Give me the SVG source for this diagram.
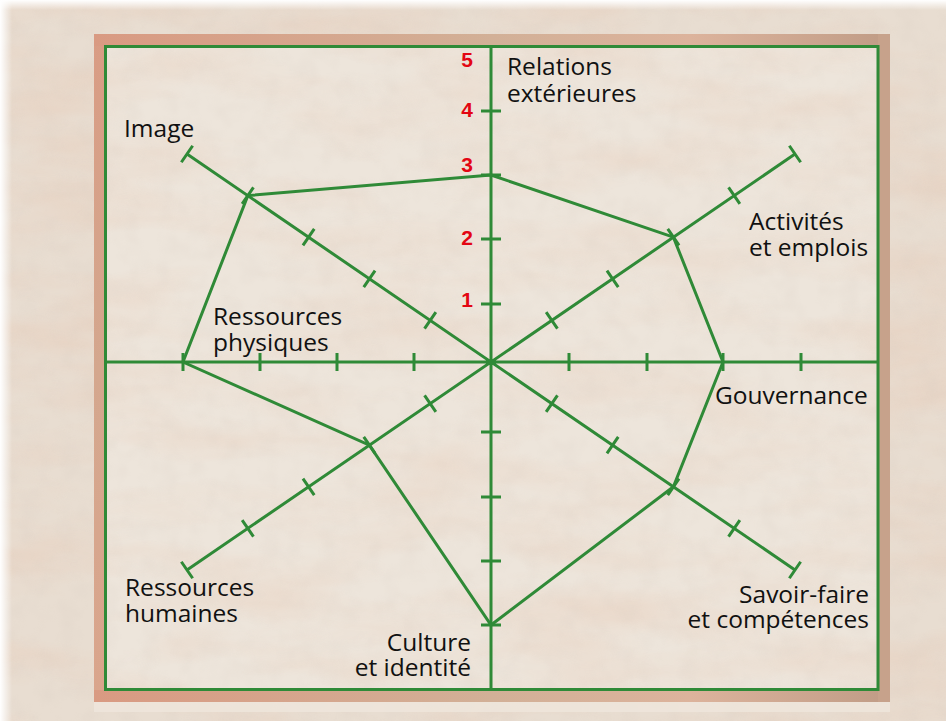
<svg xmlns="http://www.w3.org/2000/svg" width="946" height="721" viewBox="0 0 946 721">
  <defs>
    <filter id="marble" x="0" y="0" width="100%" height="100%">
      <feTurbulence type="fractalNoise" baseFrequency="0.006 0.022" numOctaves="4" seed="7"/>
      <feColorMatrix type="matrix" values="0 0 0 0 0.80  0 0 0 0 0.60  0 0 0 0 0.48  1.6 0 0 0 -0.62"/>
    </filter>
    <filter id="fine" x="0" y="0" width="100%" height="100%">
      <feTurbulence type="fractalNoise" baseFrequency="0.05" numOctaves="2" seed="3"/>
      <feColorMatrix type="matrix" values="0 0 0 0 0.70  0 0 0 0 0.62  0 0 0 0 0.55  1.2 0 0 0 -0.5"/>
    </filter>
    <linearGradient id="frameTop" x1="0" y1="0" x2="1" y2="0">
      <stop offset="0" stop-color="#d99a82"/>
      <stop offset="0.5" stop-color="#d2b097"/>
      <stop offset="0.75" stop-color="#dcb39c"/>
      <stop offset="1" stop-color="#c09c86"/>
    </linearGradient>
    <linearGradient id="frameV" x1="0" y1="0" x2="0" y2="1">
      <stop offset="0" stop-color="#d99c84"/>
      <stop offset="0.5" stop-color="#d4a78e"/>
      <stop offset="1" stop-color="#daa58c"/>
    </linearGradient>
    <linearGradient id="fadeTop" x1="0" y1="0" x2="0" y2="1">
      <stop offset="0" stop-color="#ffffff" stop-opacity="1"/>
      <stop offset="1" stop-color="#ffffff" stop-opacity="0"/>
    </linearGradient>
    <linearGradient id="fadeLeft" x1="0" y1="0" x2="1" y2="0">
      <stop offset="0" stop-color="#ffffff" stop-opacity="1"/>
      <stop offset="1" stop-color="#ffffff" stop-opacity="0"/>
    </linearGradient>
    <style>
      .ax { fill: none; stroke: #2f8a37; stroke-width: 3; stroke-linecap: butt; stroke-linejoin: miter; }
      .tk { fill: none; stroke: #2f8a37; stroke-width: 3; }
      .lbl { font-family: "Open Sans", "Liberation Sans", sans-serif; font-size: 24.5px; fill: #111111; }
      .num { font-family: "Liberation Sans", "DejaVu Sans", sans-serif; font-size: 21px; font-weight: bold; fill: #e30613; text-anchor: end; }
      .end { text-anchor: end; }
    </style>
  </defs>

  <!-- background marble -->
  <rect x="0" y="0" width="946" height="721" fill="#e8ddd1"/>
  <rect x="0" y="0" width="946" height="721" filter="url(#marble)" opacity="0.65"/>
  <rect x="0" y="0" width="946" height="721" filter="url(#fine)" opacity="0.4"/>
  <rect x="0" y="0" width="946" height="10" fill="url(#fadeTop)"/>
  <rect x="0" y="0" width="12" height="721" fill="url(#fadeLeft)"/>

  <!-- light halo under frame -->
  <rect x="94" y="702" width="796" height="10" fill="#efe6dc" opacity="0.8"/>

  <!-- frame -->
  <g id="frame">
    <rect x="94" y="34" width="796" height="668" fill="url(#frameV)"/>
    <rect x="94" y="34" width="796" height="12" fill="url(#frameTop)"/>
    <rect x="94" y="690" width="796" height="12" fill="url(#frameTop)"/>
    <rect x="878" y="34" width="12" height="668" fill="#c7a28b"/>
    <rect x="105" y="46" width="773" height="644" fill="#ede5db"/>
    <rect x="105" y="46" width="773" height="644" filter="url(#marble)" opacity="0.5"/>
    <rect x="105" y="46" width="773" height="644" filter="url(#fine)" opacity="0.35"/>
    <rect x="105.5" y="46.5" width="772.5" height="643" class="ax"/>
  </g>

  <g id="connectors">
    <!-- axes -->
    <path class="ax" d="M491,46 V690 M105,362 H878 M187,154 L795,570 M795,154 L187,570"/>
    <!-- vertical ticks -->
    <path class="tk" d="M481,111 h20 M481,175 h20 M481,239 h20 M481,304 h20 M481,432 h20 M481,497 h20 M481,561 h20 M481,625 h20"/>
    <!-- horizontal ticks -->
    <path class="tk" d="M183,353 v18 M260,353 v18 M337,353 v18 M414,353 v18 M569,353 v18 M647,353 v18 M723,353 v18 M801,353 v18"/>
    <!-- diagonal A ticks -->
    <path class="tk" d="M557.45,395.35 l-11.3,16.5 M618.25,436.95 l-11.3,16.5 M679.05,478.55 l-11.3,16.5 M739.85,520.15 l-11.3,16.5 M800.65,561.75 l-11.3,16.5 M435.85,312.15 l-11.3,16.5 M375.05,270.55 l-11.3,16.5 M314.25,228.95 l-11.3,16.5 M253.45,187.35 l-11.3,16.5 M192.65,145.75 l-11.3,16.5"/>
    <!-- diagonal B ticks -->
    <path class="tk" d="M546.15,312.15 l11.3,16.5 M606.95,270.55 l11.3,16.5 M667.75,228.95 l11.3,16.5 M728.55,187.35 l11.3,16.5 M789.35,145.75 l11.3,16.5 M424.55,395.35 l11.3,16.5 M363.75,436.95 l11.3,16.5 M302.95,478.55 l11.3,16.5 M242.15,520.15 l11.3,16.5 M181.35,561.75 l11.3,16.5"/>
    <!-- profile polygon -->
    <polygon class="ax" points="491,175 673.4,237.2 723,362 673.4,486.8 491,625 369.4,445.2 183,362 247.8,195.6"/>
  </g>

  <g id="scale">
    <text class="num" x="473" y="67">5</text>
    <text class="num" x="473" y="117">4</text>
    <text class="num" x="473" y="172">3</text>
    <text class="num" x="473" y="245">2</text>
    <text class="num" x="473" y="307">1</text>
  </g>

  <g id="relations-exterieures">
    <text class="lbl" x="507" y="75">Relations</text>
    <text class="lbl" x="507" y="102">extérieures</text>
  </g>
  <g id="activites-emplois">
    <text class="lbl" x="749" y="230">Activités</text>
    <text class="lbl" x="749" y="256">et emplois</text>
  </g>
  <g id="gouvernance">
    <text class="lbl" x="715" y="404">Gouvernance</text>
  </g>
  <g id="savoir-faire">
    <text class="lbl end" x="869" y="603">Savoir-faire</text>
    <text class="lbl end" x="869" y="628">et compétences</text>
  </g>
  <g id="culture-identite">
    <text class="lbl end" x="471" y="651">Culture</text>
    <text class="lbl end" x="471" y="676">et identité</text>
  </g>
  <g id="ressources-humaines">
    <text class="lbl" x="125" y="596">Ressources</text>
    <text class="lbl" x="125" y="622">humaines</text>
  </g>
  <g id="ressources-physiques">
    <text class="lbl" x="213" y="325">Ressources</text>
    <text class="lbl" x="213" y="351">physiques</text>
  </g>
  <g id="image">
    <text class="lbl" x="124" y="137">Image</text>
  </g>
</svg>
